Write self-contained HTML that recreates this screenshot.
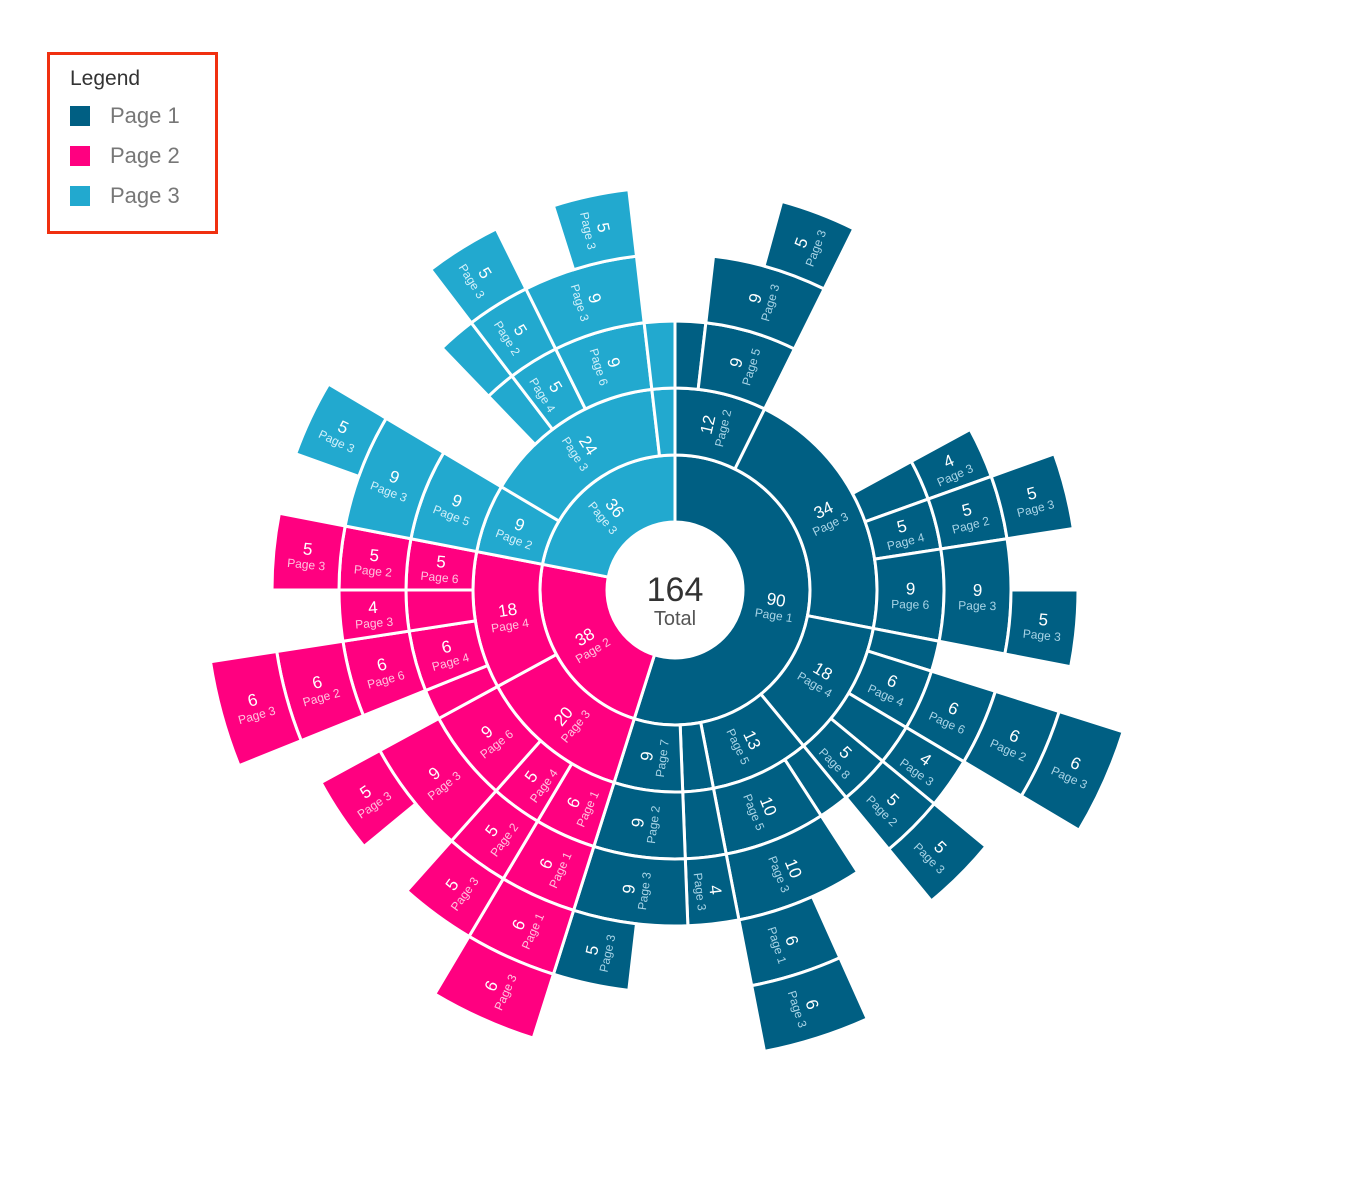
<!DOCTYPE html>
<html><head><meta charset="utf-8">
<style>
html,body{margin:0;padding:0;background:#fff;width:1346px;height:1182px;overflow:hidden;font-family:"Liberation Sans",sans-serif;}
#legend{position:absolute;left:47px;top:52px;width:165px;height:176px;border:3px solid #f03010;}
#legend .t{position:absolute;left:20px;top:12px;font-size:21px;color:#333;}
#legend .r{position:absolute;left:20px;width:20px;height:20px;}
#legend .l{position:absolute;left:60px;font-size:22px;color:#777;line-height:22px;}
svg{position:absolute;left:0;top:0;}
</style></head><body>
<svg id="s" width="1346" height="1182" xmlns="http://www.w3.org/2000/svg"></svg>
<div id="legend">
<div class="t">Legend</div>
<div class="r" style="top:51px;background:#005f83"></div><div class="l" style="top:50px">Page 1</div>
<div class="r" style="top:91px;background:#ff0080"></div><div class="l" style="top:90px">Page 2</div>
<div class="r" style="top:131px;background:#22a9cf"></div><div class="l" style="top:130px">Page 3</div>
</div>
<script>
var CX=675,CY=590,R=[68,135,202,269,336,403,470],TOT=164;
var COL=['#005f83','#ff0080','#22a9cf'],SUB=['#a8d4e6','#ffc2de','#d2f0fa'];
var data=[
[90,'Page 1',[
 [12,'Page 2',[[3,null],[9,'Page 5',[[9,'Page 3',[[5,'Page 3']]]]]]],
 [34,'Page 3',[[4,null,[[4,'Page 3']]],[5,'Page 4',[[5,'Page 2',[[5,'Page 3']]]]],[9,'Page 6',[[9,'Page 3',[[5,'Page 3']]]]]]],
 [18,'Page 4',[[3,null],[6,'Page 4',[[6,'Page 6',[[6,'Page 2',[[6,'Page 3']]]]]]],[4,null,[[4,'Page 3']]],[5,'Page 8',[[5,'Page 2',[[5,'Page 3']]]]]]],
 [13,'Page 5',[[3,null],[10,'Page 5',[[10,'Page 3',[[6,'Page 1',[[6,'Page 3']]]]]]]]],
 [4,null,[[4,null,[[4,'Page 3']]]]],
 [9,'Page 7',[[9,'Page 2',[[9,'Page 3',[[5,'Page 3']]]]]]]
]],
[38,'Page 2',[
 [20,'Page 3',[[6,'Page 1',[[6,'Page 1',[[6,'Page 1',[[6,'Page 3']]]]]]],[5,'Page 4',[[5,'Page 2',[[5,'Page 3']]]]],[9,'Page 6',[[9,'Page 3',[[5,'Page 3']]]]]]],
 [18,'Page 4',[[3,null],[6,'Page 4',[[6,'Page 6',[[6,'Page 2',[[6,'Page 3']]]]]]],[4,null,[[4,'Page 3']]],[5,'Page 6',[[5,'Page 2',[[5,'Page 3']]]]]]]
]],
[36,'Page 3',[
 [9,'Page 2',[[9,'Page 5',[[9,'Page 3',[[5,'Page 3']]]]]]],
 [24,'Page 3',[[3,null,[[3,null]]],[5,'Page 4',[[5,'Page 2',[[5,'Page 3']]]]],[9,'Page 6',[[9,'Page 3',[[5,'Page 3']]]]]]],
 [3,null,[[3,null]]]
]]];
var svg=document.getElementById('s'),NS='http://www.w3.org/2000/svg';
function pt(a,r){var t=(a-90)*Math.PI/180;return [CX+r*Math.cos(t),CY+r*Math.sin(t)];}
function arc(a0,a1,r0,r1,c){
 var p1=pt(a0,r1),p2=pt(a1,r1),p3=pt(a1,r0),p4=pt(a0,r0),lg=(a1-a0)>180?1:0;
 var d='M'+p1+'A'+r1+','+r1+' 0 '+lg+' 1 '+p2+'L'+p3+'A'+r0+','+r0+' 0 '+lg+' 0 '+p4+'Z';
 var e=document.createElementNS(NS,'path');e.setAttribute('d',d);e.setAttribute('fill',c);
 e.setAttribute('stroke','#fff');e.setAttribute('stroke-width','3');svg.appendChild(e);}
var labels=[];
function draw(nodes,a0,a1,depth,ci){
 var sum=0;nodes.forEach(function(n){sum+=n[0];});
 var s=a1-sum*360/TOT;
 nodes.forEach(function(n,i){
  var c=ci===undefined?i:ci;
  var w=n[0]*360/TOT,e=s+w;
  arc(s,e,R[depth],R[depth+1],COL[c]);
  if(n[1])labels.push([ (s+e)/2,(R[depth]+R[depth+1])/2,n[0],n[1],c]);
  if(n[2])draw(n[2],s,e,depth+1,c);
  s=e;});
}
draw(data,0,360,0);
labels.forEach(function(L){
 var a=L[0],p=pt(a,L[1]),rot=a<180?a-90:a-270;
 var g=document.createElementNS(NS,'g');
 g.setAttribute('transform','translate('+p[0]+','+p[1]+') rotate('+rot+')');
 var t1=document.createElementNS(NS,'text');t1.setAttribute('y','0');t1.setAttribute('text-anchor','middle');
 t1.setAttribute('font-size','17');t1.setAttribute('fill','#fff');t1.textContent=L[2];
 var t2=document.createElementNS(NS,'text');t2.setAttribute('y','14');t2.setAttribute('text-anchor','middle');
 t2.setAttribute('font-size','12');t2.setAttribute('fill',SUB[L[4]]);t2.textContent=L[3];
 g.appendChild(t1);g.appendChild(t2);svg.appendChild(g);});
var c=document.createElementNS(NS,'text');c.setAttribute('x',CX);c.setAttribute('y',CY+11);c.setAttribute('text-anchor','middle');
c.setAttribute('font-size','34');c.setAttribute('fill','#333');c.textContent='164';svg.appendChild(c);
var c2=document.createElementNS(NS,'text');c2.setAttribute('x',CX);c2.setAttribute('y',CY+35);c2.setAttribute('text-anchor','middle');
c2.setAttribute('font-size','20');c2.setAttribute('fill','#555');c2.textContent='Total';svg.appendChild(c2);
</script>
</body></html>
